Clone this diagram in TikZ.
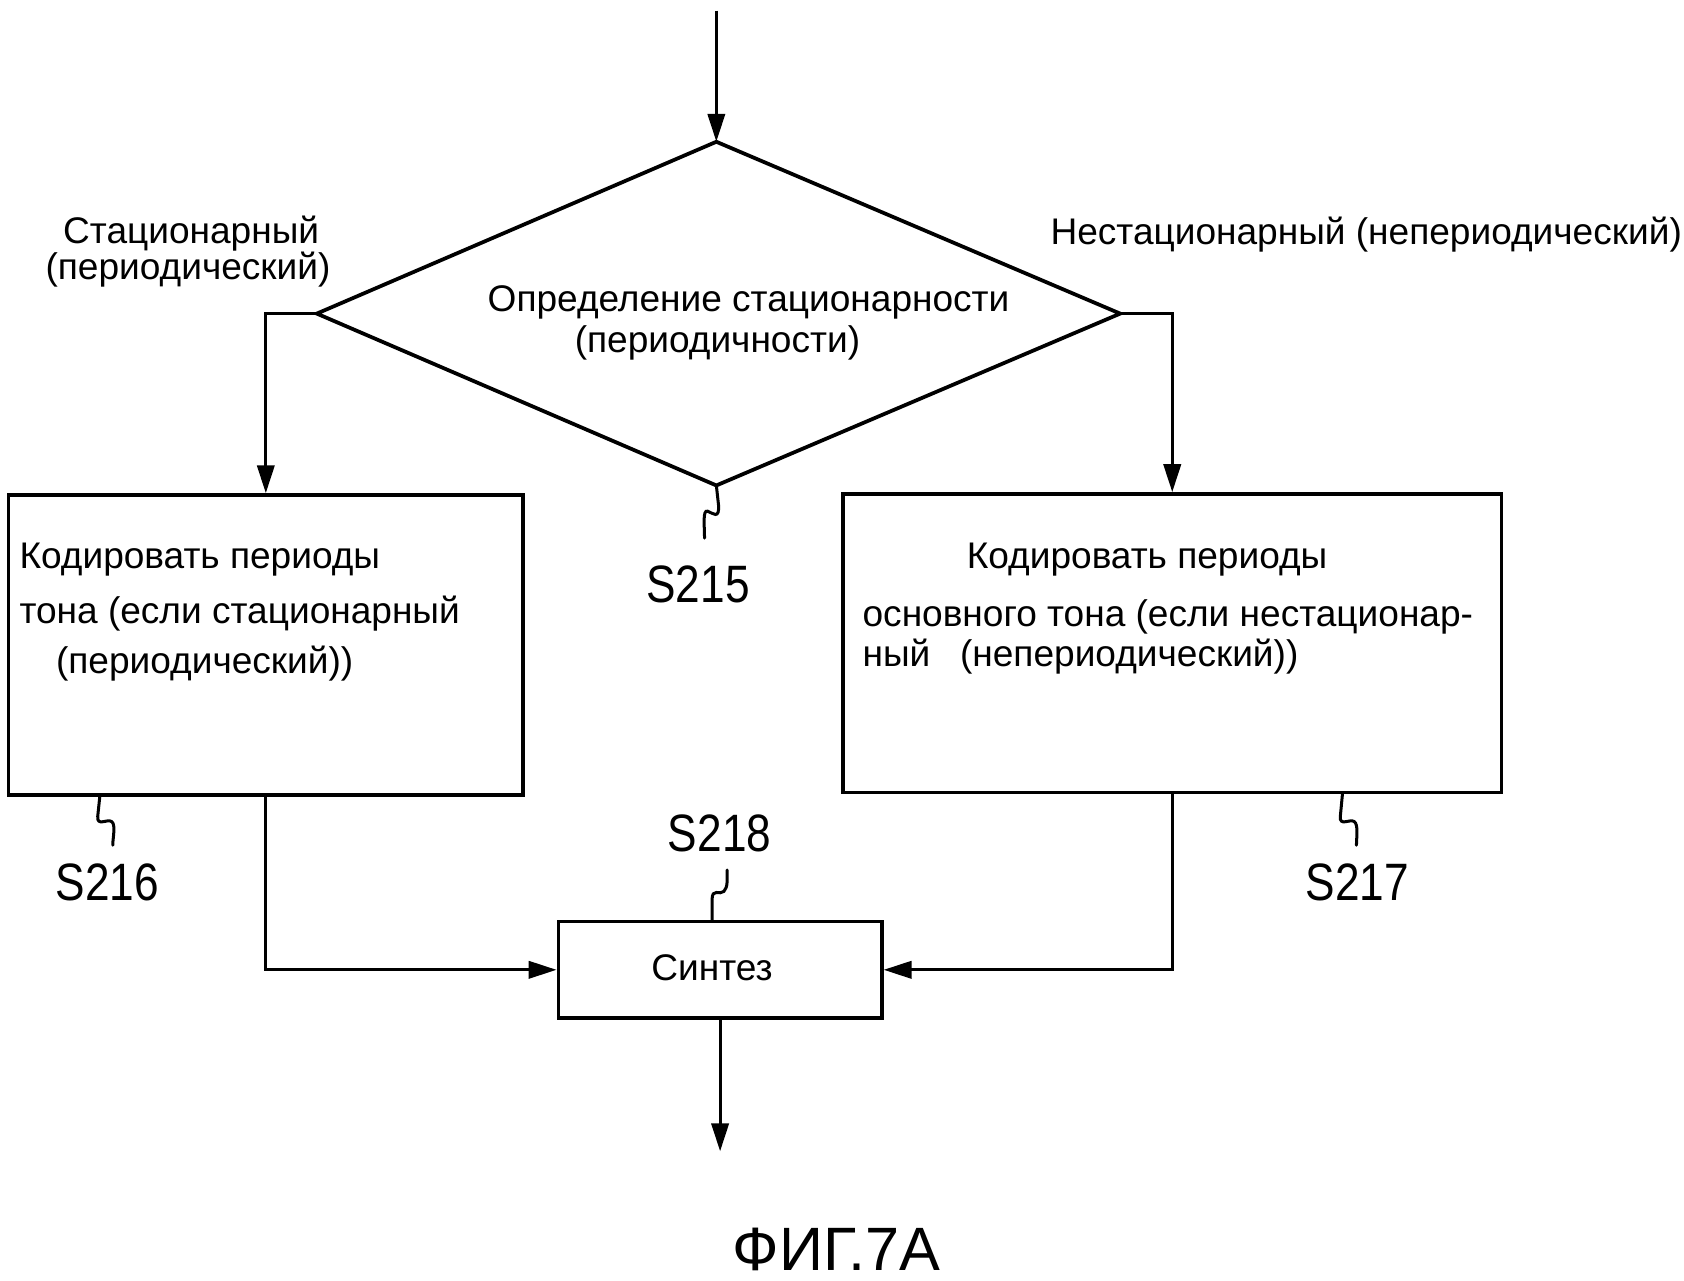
\documentclass[tikz,border=0pt]{standalone}
\usepackage{fontspec}
\setmainfont{Liberation Sans}
\newfontfamily\lblfont[FakeStretch=0.84]{Liberation Sans}
\usetikzlibrary{arrows.meta}
\tikzset{
  shapeline/.style={line width=3.5pt, line join=miter},
  boxnode/.style={draw, line width=3.5pt, inner sep=0pt},
  conn/.style={line width=3pt, -{Triangle[length=26pt,width=16pt]}},
  squig/.style={line width=2.8pt, line cap=round},
  txt/.style={font=\fontsize{34.5}{40}\selectfont, inner sep=0pt},
  lbl/.style={font=\lblfont\fontsize{49}{56}\selectfont, inner sep=0pt, anchor=base},
}
\begin{document}
\begin{tikzpicture}[x=1pt,y=-1pt]
\useasboundingbox (0,0) rectangle (1568,1192);
\fill[white] (0,0) rectangle (1568,1192);

% diamond corners
\coordinate (dT) at (667,132);
\coordinate (dR) at (1043,292);
\coordinate (dB) at (667,452);
\coordinate (dL) at (295,292);
\draw[shapeline] (dT) -- (dR) -- (dB) -- (dL) -- cycle;
\node[txt, anchor=base] (d1) at (697,290) {Определение стационарности};
\node[txt, anchor=base] (d2) at (668,328) {(периодичности)};

% start / end
\coordinate (start) at (667,10);
\coordinate (endc) at (667,1072);

% boxes
\node[boxnode, minimum width=479pt, minimum height=279pt] (lbox) at (247.5,600.5) {};
\node[boxnode, minimum width=613pt, minimum height=278pt] (rbox) at (1091.5,599) {};
\node[boxnode, minimum width=301pt, minimum height=90pt] (syn) at (670.5,903) {};

% branch labels
\node[txt, anchor=base] (l1) at (178,227) {Стационарный};
\node[txt, anchor=base] (l2) at (175,260) {(периодический)};
\node[txt, anchor=base west] (r1) at (978,228) {Нестационарный (непериодический)};

% box texts
\node[txt, anchor=base west] (lb1) at (18,529) {Кодировать периоды};
\node[txt, anchor=base west] (lb2) at (18,581) {тона (если стационарный};
\node[txt, anchor=base west] (lb3) at (52,627) {(периодический))};
\node[txt, anchor=base west] (rb1) at (900,529) {Кодировать периоды};
\node[txt, anchor=base west] (rb2) at (803,583) {основного тона (если нестационар-};
\node[txt, anchor=base west] (rb3) at (803,621) {ный\hspace{0.8em}(непериодический))};
\node[txt, anchor=base] (st) at (663,913) {Синтез};

% connectors
\draw[conn] (start) -- (dT);
\draw[conn] (dL) -| (lbox.north);
\draw[conn] (dR) -| (rbox.north);
\draw[conn] (lbox.south) |- (syn.west);
\draw[conn] (rbox.south) |- (syn.east);
\draw[conn] (syn.south) -- (syn.south |- endc);

% step labels with squiggles
\node[lbl] (s215) at (650,561) {S215};
\node[lbl] (s216) at (100,838) {S216};
\node[lbl] (s217) at (1264,838) {S217};
\node[lbl] (s218) at (670,793) {S218};

\draw[squig] (dB) -- (669,470) .. controls (670,484) and (664,478) .. (659,476) .. controls (654,474) and (656,490) .. (656,501);
\draw[squig] (93,741) -- (91,760) .. controls (90,770) and (100,762) .. (104,765) .. controls (108,768) and (105,780) .. (105,787);
\draw[squig] (1250,739) -- (1248,760) .. controls (1247,770) and (1257,762) .. (1261,765) .. controls (1265,768) and (1263,780) .. (1263,787);
\draw[squig] (663,858) -- (663,838) .. controls (663,826) and (670,834) .. (674,830) .. controls (678,826) and (677,818) .. (677,810);

% figure caption
\node[font=\fontsize{57}{64}\selectfont, inner sep=0pt, anchor=base] (fig) at (779,1183) {ФИГ.7А};
\end{tikzpicture}
\end{document}
